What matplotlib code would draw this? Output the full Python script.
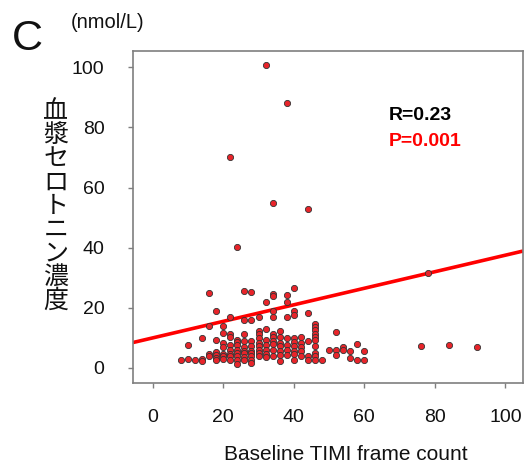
import matplotlib
matplotlib.use("Agg")
import matplotlib.pyplot as plt
import numpy as np

# ---- data ----
timi_x = [
    8,
    10, 10,
    12,
    14, 14, 14,
    16, 16, 16, 16,
    18, 18, 18, 18, 18, 18,
    20, 20, 20, 20, 20, 20, 20,
    22, 22, 22, 22, 22, 22, 22, 22, 22,
    24, 24, 24, 24, 24, 24, 24, 24, 24,
    26, 26, 26, 26, 26, 26, 26, 26, 26,
    28, 28, 28, 28, 28, 28, 28, 28, 28,
    30, 30, 30, 30, 30, 30, 30, 30, 30,
    32, 32, 32, 32, 32, 32, 32, 32,
    34, 34, 34, 34, 34, 34, 34, 34, 34, 34, 34,
    36, 36, 36, 36, 36, 36, 36,
    38, 38, 38, 38, 38, 38, 38, 38,
    40, 40, 40, 40, 40, 40, 40, 40, 40,
    42, 42, 42, 42, 42,
    44, 44, 44, 44, 44,
    46, 46, 46, 46, 46, 46, 46, 46, 46, 46,
    48,
    50,
    52, 52, 52,
    54, 54,
    56, 56,
    58, 58,
    60, 60,
    76, 78, 84, 92,
]
serotonin_y = [
    2.8,
    7.6, 3.0,
    2.8,
    9.9, 3.1, 2.4,
    24.9, 13.8, 4.8, 3.9,
    19.0, 9.2, 5.2, 4.4, 3.3, 2.8,
    13.8, 11.7, 8.3, 6.9, 4.8, 3.9, 3.1,
    70.3, 16.8, 11.2, 10.2, 7.6, 6.0, 4.8, 3.9, 2.8,
    40.1, 9.4, 8.6, 7.6, 6.1, 4.9, 3.9, 2.8, 1.3,
    25.5, 15.8, 11.3, 8.9, 6.9, 5.8, 4.9, 3.7, 2.8,
    25.3, 15.8, 8.9, 7.2, 5.8, 5.0, 3.9, 2.6, 1.7,
    17.1, 12.3, 11.3, 10.0, 8.3, 7.2, 6.0, 4.9, 3.9,
    100.7, 22.1, 12.8, 9.4, 7.8, 6.0, 4.8, 3.8,
    55.0, 24.6, 24.0, 19.1, 17.1, 11.4, 10.3, 8.9, 8.0, 6.1, 4.1,
    12.2, 10.2, 8.3, 7.3, 5.8, 4.4, 2.4,
    88.0, 24.4, 21.9, 17.1, 9.9, 7.6, 6.1, 4.4,
    26.6, 18.8, 17.7, 9.9, 8.8, 7.2, 5.8, 4.8, 2.8,
    10.4, 8.3, 6.9, 5.8, 3.9,
    52.9, 18.3, 9.1, 4.1, 2.8,
    14.7, 13.6, 12.6, 11.4, 10.3, 9.3, 7.2, 5.0, 3.9, 2.8,
    2.8,
    6.1,
    12.0, 6.1, 4.4,
    7.0, 6.1,
    5.6, 3.3,
    8.0, 2.8,
    5.8, 2.8,
    7.2, 31.6, 7.7, 7.0,
]
fit_intercept = 10.0
fit_slope = 0.275

x_ticks = [0, 20, 40, 60, 80, 100]
y_ticks = [0, 20, 40, 60, 80, 100]
ylabel_chars = ["血", "漿", "セ", "ロ", "ト", "ニ", "ン", "濃", "度"]
xlabel_text = "Baseline TIMI frame count"
unit_text = "(nmol/L)"
panel_letter = "C"
r_text = "R=0.23"
p_text = "P=0.001"

# ---- figure ----
W, H = 528, 468
fig = plt.figure(figsize=(W / 100, H / 100), dpi=100)
plt.rcParams["font.family"] = ["Liberation Sans", "DejaVu Sans"]

ax = fig.add_axes([133 / W, 1 - 383 / H, (523 - 133) / W, (383 - 51) / H])
ax.set_xlim(-5.6, 105.0)
ax.set_ylim(-5.0, 105.4)

frame_col = "#7f7f7f"
for sp in ax.spines.values():
    sp.set_color(frame_col)
    sp.set_linewidth(1.2)

ax.set_xticks(x_ticks)
ax.set_yticks(y_ticks)
ax.tick_params(axis="both", direction="out", length=3.5, width=1.0,
               color=frame_col, labelsize=14, labelcolor="#111111")
ax.tick_params(axis="x", pad=15)
ax.tick_params(axis="y", pad=17)

# regression line
lx = np.array(ax.get_xlim())
ax.plot(lx, fit_intercept + fit_slope * lx, color="#ff0000", lw=2.6,
        solid_capstyle="butt", zorder=2)

ax.scatter(timi_x, serotonin_y, s=20, facecolor="#e8242a",
           edgecolor="#333333", linewidths=0.6, zorder=3)

ax.text(0.655, 0.805, r_text, transform=ax.transAxes, fontsize=14,
        fontweight="bold", color="black", ha="left", va="center")
ax.text(0.655, 0.727, p_text, transform=ax.transAxes, fontsize=14,
        fontweight="bold", color="#ff0000", ha="left", va="center")

# x label
fig.text(346 / W, 1 - 455 / H, xlabel_text, fontsize=15, ha="center",
         va="center", color="#111111")

# vertical Japanese y label, one character per line
top_c, pitch = 111.5, 23.6
for i, ch in enumerate(ylabel_chars):
    fig.text(56 / W, 1 - (top_c + i * pitch) / H, ch, fontsize=18,
             ha="center", va="center", color="#111111",
             family=["Noto Sans CJK JP", "DejaVu Sans"])

fig.text(27 / W, 1 - 39 / H, panel_letter, fontsize=31, ha="center",
         va="center", color="#111111")
fig.text(108 / W, 1 - 22 / H, unit_text, fontsize=14.5, ha="center",
         va="center", color="#111111")

fig.savefig("out.png", dpi=100)
